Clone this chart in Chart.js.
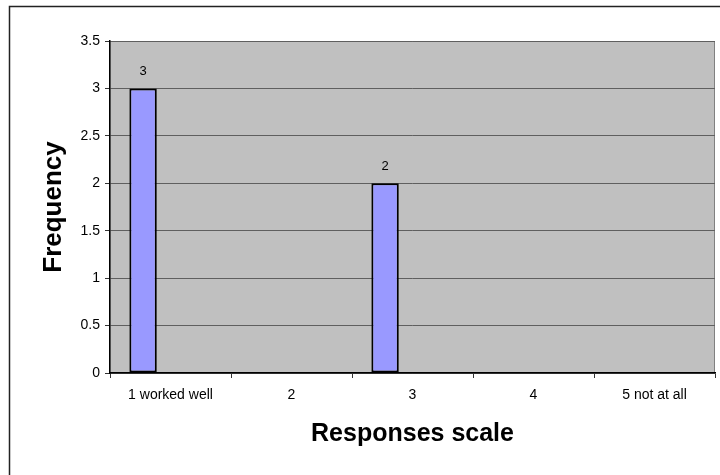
<!DOCTYPE html>
<html lang="en">
<head>
    <meta charset="UTF-8">
    <title>Responses scale</title>
    <script src="https://cdn.jsdelivr.net/npm/chart.js"></script>
    <style>
        body { margin: 0; background: #fff; }
        #wrap { width: 720px; height: 475px; position: relative; }
    </style>
</head>
<body>
    <div id="wrap"><canvas id="freqChart"></canvas></div>

    <script>
        // chart data
        const categories = ['1 worked well', '2', '3', '4', '5 not at all'];
        const frequency = [3, null, 2, null, null];
        // Excel left room for two more (empty) series in each category
        const emptySeries1 = [null, null, null, null, null];
        const emptySeries2 = [null, null, null, null, null];
        const yMax = 3.5;
        const yStep = 0.5;

        const fontFamily = '"Liberation Sans", Arial, sans-serif';

        // gray plot area, outer frame
        const backdrop = {
            id: 'backdrop',
            beforeDraw(chart) {
                const { ctx, chartArea: a } = chart;
                ctx.save();
                ctx.fillStyle = '#fff';
                ctx.fillRect(0, 0, chart.width, chart.height);
                ctx.strokeStyle = '#222';
                ctx.lineWidth = 1.5;
                ctx.strokeRect(9.5, 6.5, 900, 700);
                ctx.fillStyle = '#C0C0C0';
                ctx.fillRect(a.left, a.top, a.right - a.left, a.bottom - a.top);
                ctx.strokeStyle = '#808080';
                ctx.lineWidth = 1;
                ctx.strokeRect(a.left, a.top + 0.5, a.right - a.left - 0.5, a.bottom - a.top);
                ctx.restore();
            }
        };

        // value labels above the bars
        const barLabels = {
            id: 'barLabels',
            afterDatasetsDraw(chart) {
                const { ctx } = chart;
                const meta = chart.getDatasetMeta(0);
                ctx.save();
                ctx.font = '13px ' + fontFamily;
                ctx.fillStyle = '#000';
                ctx.textAlign = 'center';
                ctx.textBaseline = 'middle';
                meta.data.forEach((bar, i) => {
                    const v = frequency[i];
                    if (v === null) return;
                    ctx.fillText(String(v), bar.x, bar.y - 17);
                });
                ctx.restore();
            }
        };

        const barStyle = {
            backgroundColor: '#9999FF',
            borderColor: '#000',
            borderWidth: 2,
            borderSkipped: false,
            barPercentage: 1,
            categoryPercentage: 0.68
        };

        new Chart(document.getElementById('freqChart'), {
            type: 'bar',
            data: {
                labels: categories,
                datasets: [
                    Object.assign({ label: 'Frequency', data: frequency }, barStyle),
                    Object.assign({ label: 'Series 2', data: emptySeries1 }, barStyle),
                    Object.assign({ label: 'Series 3', data: emptySeries2 }, barStyle)
                ]
            },
            options: {
                responsive: true,
                maintainAspectRatio: false,
                animation: false,
                layout: { padding: { left: 0, right: 5, top: 41, bottom: 0 } },
                plugins: {
                    legend: { display: false },
                    tooltip: { enabled: false }
                },
                scales: {
                    x: {
                        afterFit(scale) { scale.height = 102; },
                        grid: {
                            drawOnChartArea: false,
                            tickLength: 5,
                            color: '#000',
                            tickColor: '#333'
                        },
                        border: { color: '#000', width: 1.5 },
                        ticks: {
                            color: '#000',
                            padding: 9,
                            maxRotation: 0,
                            font: { family: fontFamily, size: 14 }
                        },
                        title: {
                            display: true,
                            text: 'Responses scale',
                            color: '#000',
                            font: { family: fontFamily, size: 25, weight: 'bold' },
                            padding: { top: 0, bottom: 26 }
                        }
                    },
                    y: {
                        min: 0,
                        max: yMax,
                        afterFit(scale) { scale.width = 110; },
                        grid: {
                            color: '#5f5f5f',
                            tickColor: '#333',
                            tickLength: 5
                        },
                        border: { color: '#000', width: 1.5 },
                        ticks: {
                            stepSize: yStep,
                            color: '#000',
                            padding: 5,
                            font: { family: fontFamily, size: 14 },
                            callback: (v) => String(v)
                        },
                        title: {
                            display: true,
                            text: 'Frequency',
                            color: '#000',
                            font: { family: fontFamily, size: 26, weight: 'bold' },
                            padding: { top: 38, bottom: 0 }
                        }
                    }
                }
            },
            plugins: [backdrop, barLabels]
        });
    </script>
</body>
</html>
